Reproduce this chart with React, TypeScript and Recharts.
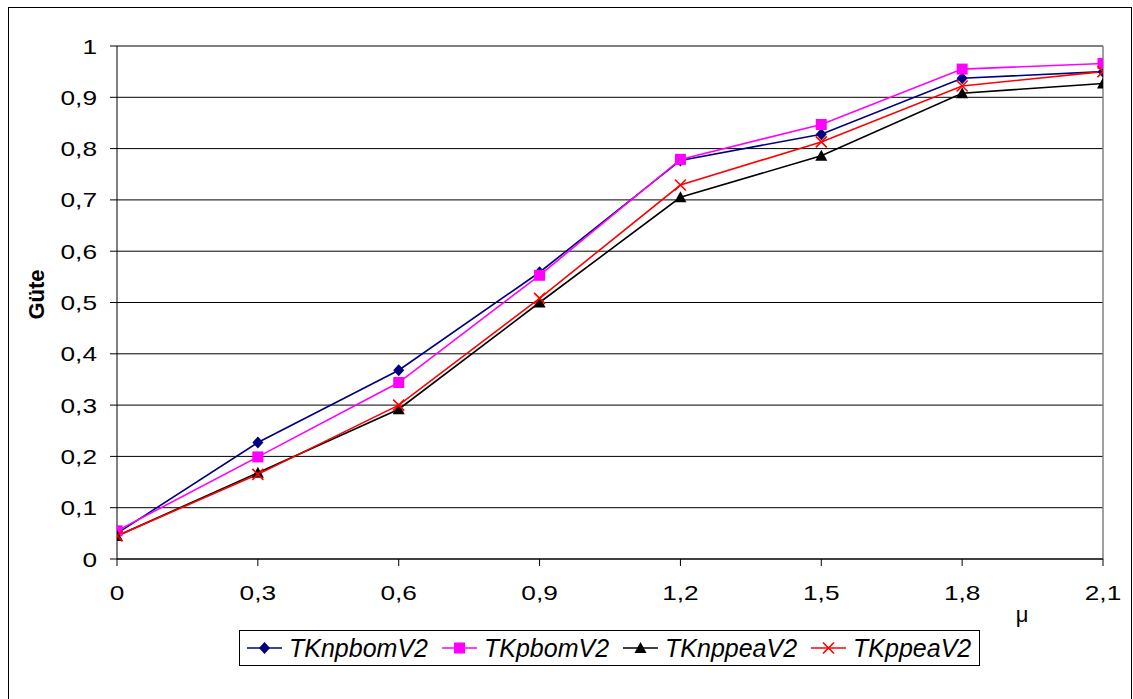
import React from 'react';
import { LineChart, Line, XAxis, YAxis, CartesianGrid, Legend, ReferenceLine } from 'recharts';

const muValues = [0, 0.3, 0.6, 0.9, 1.2, 1.5, 1.8, 2.1];
const tkNpbomV2 = [0.05, 0.227, 0.368, 0.559, 0.777, 0.828, 0.937, 0.95];
const tkPbomV2 = [0.055, 0.199, 0.344, 0.553, 0.779, 0.847, 0.955, 0.966];
const tkNppeaV2 = [0.045, 0.168, 0.292, 0.5, 0.705, 0.786, 0.908, 0.927];
const tkPpeaV2 = [0.045, 0.165, 0.3, 0.508, 0.729, 0.813, 0.922, 0.95];
const yTicks = [0, 0.1, 0.2, 0.3, 0.4, 0.5, 0.6, 0.7, 0.8, 0.9, 1];
const seriesNames = ['TKnpbomV2', 'TKpbomV2', 'TKnppeaV2', 'TKppeaV2'];
const seriesColors = ['#000080', '#FF00FF', '#000000', '#FF0000'];
const seriesShapes = ['diamond', 'square', 'triangle', 'cross'];
const xAxisTitle = 'μ';
const yAxisTitle = 'Güte';

const data = muValues.map((mu, i) => ({
  mu,
  [seriesNames[0]]: tkNpbomV2[i],
  [seriesNames[1]]: tkPbomV2[i],
  [seriesNames[2]]: tkNppeaV2[i],
  [seriesNames[3]]: tkPpeaV2[i],
}));

const FONT = '"Liberation Sans", Arial, sans-serif';
const TICK_FS = 21;
const fmt = (v: number) => String(v).replace('.', ',');

function Marker({ shape, color, cx, cy }: { shape: string; color: string; cx: number; cy: number }) {
  if (shape === 'diamond') {
    return <path d={`M${cx},${cy - 6}L${cx + 5.5},${cy}L${cx},${cy + 6}L${cx - 5.5},${cy}Z`} fill={color} stroke="none" />;
  }
  if (shape === 'square') {
    return <rect x={cx - 5.5} y={cy - 5.5} width={11} height={11} fill={color} stroke="none" />;
  }
  if (shape === 'triangle') {
    return <path d={`M${cx},${cy - 6}L${cx + 6},${cy + 5}L${cx - 6},${cy + 5}Z`} fill={color} stroke="none" />;
  }
  return (
    <path d={`M${cx - 5.5},${cy - 5.5}L${cx + 5.5},${cy + 5.5}M${cx + 5.5},${cy - 5.5}L${cx - 5.5},${cy + 5.5}`} stroke={color} strokeWidth={1.6} fill="none" />
  );
}

const makeDot = (shape: string, color: string) => (props: any) => {
  const { cx, cy, index } = props;
  if (cx == null || cy == null) return <g key={`d-${shape}-${index}`} />;
  return (
    <g key={`d-${shape}-${index}`}>
      <Marker shape={shape} color={color} cx={cx} cy={cy} />
    </g>
  );
};

const XTick = (props: any) => {
  const { x, y, payload } = props;
  return (
    <text
      x={x}
      y={y}
      dy="0.72em"
      textAnchor="middle"
      fontSize={TICK_FS}
      fontFamily={FONT}
      fill="#000"
      transform={`translate(${x},0) scale(1.25,1) translate(${-x},0)`}
    >
      {fmt(payload.value)}
    </text>
  );
};

const YTick = (props: any) => {
  const { x, y, payload } = props;
  return (
    <text
      x={x}
      y={y}
      dy="0.36em"
      textAnchor="end"
      fontSize={TICK_FS}
      fontFamily={FONT}
      fill="#000"
      transform={`translate(${x},0) scale(1.25,1) translate(${-x},0)`}
    >
      {fmt(payload.value)}
    </text>
  );
};

const LegendBox = () => (
  <div
    style={{
      border: '1px solid #000',
      background: '#fff',
      display: 'flex',
      alignItems: 'center',
      height: 36,
      boxSizing: 'border-box',
      paddingLeft: 7,
      paddingRight: 8,
      fontFamily: FONT,
      fontStyle: 'italic',
      fontSize: 25,
      color: '#000',
      whiteSpace: 'nowrap',
    }}
  >
    {seriesNames.map((name, i) => (
      <div key={name} style={{ display: 'flex', alignItems: 'center', marginLeft: i === 0 ? 0 : 14 }}>
        <svg width={35} height={16} style={{ marginRight: 7 }}>
          <line x1={0} y1={8} x2={35} y2={8} stroke={seriesColors[i]} strokeWidth={1.6} />
          <Marker shape={seriesShapes[i]} color={seriesColors[i]} cx={17.5} cy={8} />
        </svg>
        <span style={{ lineHeight: '30px' }}>{name}</span>
      </div>
    ))}
  </div>
);

export default function App() {
  return (
    <div
      style={{
        position: 'absolute',
        left: 8,
        top: 7,
        width: 1124,
        height: 692,
        borderTop: '1px solid #000',
        borderLeft: '1px solid #000',
        borderRight: '1px solid #000',
        boxSizing: 'border-box',
        background: '#fff',
        overflow: 'hidden',
      }}
    >
      <LineChart
        width={1122}
        height={690}
        data={data}
        margin={{ top: 38, right: 28, left: 0, bottom: 99 }}
      >
        <CartesianGrid vertical={false} stroke="#000" strokeWidth={1} />
        <ReferenceLine y={1} stroke="#808080" strokeWidth={1.5} />
        <ReferenceLine x={2.1} stroke="#808080" strokeWidth={1.5} />
        <XAxis
          dataKey="mu"
          type="number"
          domain={[0, 2.1]}
          ticks={muValues}
          interval={0}
          height={40}
          stroke="#000"
          tickSize={7}
          tickMargin={19}
          tick={<XTick />}
          allowDataOverflow
          label={(p: any) => {
            const vb = p.viewBox;
            return (
              <text
                x={vb.x + vb.width - 81}
                y={vb.y + 55}
                textAnchor="middle"
                dominantBaseline="central"
                fontSize={22}
                fontFamily={FONT}
                fill="#000"
              >
                {xAxisTitle}
              </text>
            );
          }}
        />
        <YAxis
          type="number"
          domain={[0, 1]}
          ticks={yTicks}
          interval={0}
          width={108}
          stroke="#000"
          tickSize={7}
          tickMargin={13}
          tick={<YTick />}
          label={(p: any) => {
            const vb = p.viewBox;
            const x = vb.x + 27;
            const y = vb.y + vb.height / 2 - 8;
            return (
              <text
                x={x}
                y={y}
                transform={`rotate(-90, ${x}, ${y})`}
                textAnchor="middle"
                dominantBaseline="central"
                fontSize={22}
                fontWeight="bold"
                fontFamily={FONT}
                fill="#000"
              >
                {yAxisTitle}
              </text>
            );
          }}
        />
        {seriesNames.map((name, i) => (
          <Line
            key={name}
            type="linear"
            dataKey={name}
            stroke={seriesColors[i]}
            strokeWidth={1.6}
            dot={makeDot(seriesShapes[i], seriesColors[i])}
            activeDot={false}
            isAnimationActive={false}
          />
        ))}
        <Legend
          layout="horizontal"
          verticalAlign="middle"
          align="center"
          content={() => <LegendBox />}
          wrapperStyle={{ position: 'absolute', left: 230, top: 622, width: 'auto' }}
        />
      </LineChart>
    </div>
  );
}
